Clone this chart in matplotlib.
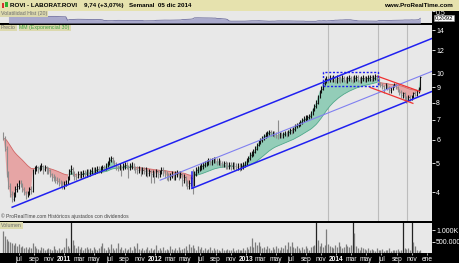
import numpy as np
import pandas as pd
import matplotlib
matplotlib.use('Agg')
import matplotlib.pyplot as plt
import matplotlib.dates as mdates
from matplotlib.patches import Rectangle
from matplotlib.ticker import NullLocator
from matplotlib.transforms import blended_transform_factory

# weekly data, ROVI, ending 05 dic 2014
closes = [
    6.1, 5.6, 4.6, 4.2, 3.95, 3.8, 3.9, 4.1, 4.2, 4.3,
    4.25, 4.1, 4.0, 3.9, 3.95, 4.1, 4.05, 4.7, 4.8, 4.85,
    4.8, 4.85, 4.9, 4.8, 4.85, 4.8, 4.75, 4.6, 4.5, 4.45,
    4.4, 4.35, 4.3, 4.25, 4.2, 4.25, 4.3, 4.45, 4.7, 4.8,
    4.65, 4.55, 4.5, 4.6, 4.55, 4.6, 4.65, 4.6, 4.7, 4.65,
    4.7, 4.75, 4.7, 4.75, 4.8, 4.75, 4.8, 4.85, 4.8, 4.9,
    5.0, 5.15, 5.2, 5.1, 5.0, 4.9, 4.85, 4.9, 4.85, 4.9,
    4.95, 4.9, 4.85, 4.9, 4.95, 4.85, 4.8, 4.75, 4.8, 4.7,
    4.75, 4.7, 4.75, 4.65, 4.7, 4.6, 4.65, 4.55, 4.7, 4.6,
    4.65, 4.75, 4.7, 4.6, 4.55, 4.5, 4.55, 4.6, 4.5, 4.6,
    4.65, 4.55, 4.6, 4.4, 4.5, 4.35, 4.2, 4.3, 4.45, 4.25,
    4.6, 4.75, 4.8, 4.85, 4.9, 4.95, 5.0, 5.05, 5.1, 5.05,
    5.1, 5.15, 5.1, 5.05, 5.1, 5.0, 4.95, 5.0, 4.95, 4.9,
    4.95, 4.9, 4.95, 4.9, 4.85, 4.9, 4.85, 4.9, 4.95, 5.0,
    5.1, 5.2, 5.35, 5.4, 5.45, 5.6, 5.75, 5.9, 6.0, 6.1,
    6.2, 6.25, 6.35, 6.4, 6.3, 6.35, 6.3, 6.25, 6.2, 6.3,
    6.25, 6.3, 6.35, 6.3, 6.4, 6.5, 6.45, 6.55, 6.7, 6.75,
    6.8, 6.9, 7.0, 7.05, 7.1, 7.15, 7.2, 7.4, 7.6, 7.8,
    8.0, 8.4, 8.7, 8.9, 9.3, 9.5, 9.6, 9.55, 9.7, 9.6,
    9.65, 9.5, 9.7, 9.6, 9.55, 9.7, 9.6, 9.5, 9.65, 9.7,
    9.6, 9.55, 9.7, 9.75, 9.6, 9.5, 9.65, 9.7, 9.6, 9.65,
    9.7, 9.75, 9.6, 9.7, 9.8, 9.7, 9.3, 9.2, 9.1, 9.0,
    9.15, 9.0, 8.8, 8.9, 9.1, 9.2, 9.0, 8.8, 8.7, 8.5,
    8.6, 8.3, 8.2, 8.35, 8.25, 8.4, 8.6, 8.5, 8.7, 8.9,
    9.74,
]
highs = [
    6.4, 6.2, 5.7, 4.7, 4.3, 4.05, 4.0, 4.2, 4.3, 4.4,
    4.4, 4.3, 4.15, 4.05, 4.05, 4.15, 4.2, 4.8, 4.9, 4.95,
    4.9, 4.95, 5.0, 4.95, 4.95, 4.9, 4.85, 4.8, 4.65, 4.6,
    4.55, 4.5, 4.45, 4.4, 4.35, 4.35, 4.4, 4.55, 4.8, 4.95,
    4.85, 4.7, 4.65, 4.7, 4.7, 4.7, 4.75, 4.75, 4.8, 4.8,
    4.8, 4.85, 4.85, 4.85, 4.9, 4.9, 4.9, 4.95, 4.95, 5.0,
    5.1, 5.25, 5.3, 5.25, 5.15, 5.05, 4.95, 5.0, 4.95, 5.0,
    5.05, 5.05, 4.95, 5.0, 5.05, 5.0, 4.9, 4.9, 4.9, 4.85,
    4.85, 4.85, 4.85, 4.8, 4.8, 4.75, 4.75, 4.7, 4.8, 4.75,
    4.75, 4.85, 4.85, 4.75, 4.7, 4.65, 4.65, 4.7, 4.65, 4.7,
    4.75, 4.7, 4.7, 4.65, 4.6, 4.55, 4.4, 4.4, 4.55, 4.8,
    4.7, 4.85, 4.9, 4.95, 5.0, 5.05, 5.1, 5.15, 5.2, 5.2,
    5.2, 5.25, 5.25, 5.2, 5.2, 5.15, 5.1, 5.1, 5.1, 5.05,
    5.05, 5.05, 5.05, 5.05, 5.0, 5.0, 5.0, 5.0, 5.05, 5.1,
    5.2, 5.3, 5.45, 5.5, 5.6, 5.7, 5.85, 6.0, 6.1, 6.2,
    6.3, 6.4, 6.45, 6.5, 6.5, 6.45, 6.45, 6.4, 7.0, 6.4,
    6.4, 6.4, 6.45, 6.45, 6.5, 6.6, 6.6, 6.65, 6.8, 6.85,
    6.9, 7.0, 7.1, 7.2, 7.25, 7.3, 7.35, 7.5, 7.7, 7.9,
    8.15, 8.5, 8.8, 9.1, 9.4, 9.7, 9.8, 9.8, 9.9, 9.85,
    9.9, 9.8, 9.9, 9.85, 9.8, 9.9, 9.85, 9.75, 9.85, 9.9,
    9.85, 9.8, 9.9, 9.95, 9.9, 9.75, 9.85, 9.9, 9.85, 9.85,
    9.9, 9.95, 9.9, 9.9, 10.0, 9.95, 9.75, 9.4, 9.3, 9.2,
    9.3, 9.25, 9.1, 9.0, 9.2, 9.3, 9.3, 9.1, 8.9, 8.8,
    8.7, 8.7, 8.4, 8.5, 8.5, 8.5, 8.7, 8.75, 8.8, 9.0,
    9.85,
]
lows = [
    6.0, 5.5, 4.5, 4.1, 3.85, 3.7, 3.75, 3.85, 4.0, 4.1,
    4.15, 4.0, 3.9, 3.8, 3.85, 3.9, 3.95, 4.0, 4.6, 4.7,
    4.65, 4.7, 4.75, 4.6, 4.7, 4.6, 4.6, 4.5, 4.35, 4.35,
    4.3, 4.25, 4.2, 4.15, 4.1, 4.1, 4.2, 4.25, 4.4, 4.6,
    4.55, 4.4, 4.4, 4.45, 4.45, 4.45, 4.5, 4.5, 4.5, 4.55,
    4.55, 4.6, 4.6, 4.6, 4.65, 4.65, 4.65, 4.7, 4.7, 4.75,
    4.85, 4.95, 5.05, 5.0, 4.9, 4.75, 4.7, 4.75, 4.55, 4.75,
    4.8, 4.8, 4.45, 4.75, 4.8, 4.75, 4.65, 4.6, 4.65, 4.55,
    4.6, 4.6, 4.55, 4.5, 4.55, 4.3, 4.5, 4.3, 4.5, 4.45,
    4.5, 4.6, 4.55, 4.45, 4.4, 4.35, 4.4, 4.45, 4.4, 4.4,
    4.5, 4.4, 4.45, 4.2, 4.3, 4.2, 4.1, 4.1, 4.2, 3.95,
    4.2, 4.55, 4.65, 4.7, 4.75, 4.8, 4.85, 4.9, 4.95, 4.95,
    4.95, 5.0, 5.0, 4.95, 4.95, 4.9, 4.85, 4.85, 4.8, 4.8,
    4.8, 4.75, 4.8, 4.75, 4.75, 4.75, 4.7, 4.75, 4.8, 4.85,
    4.95, 5.05, 5.15, 5.25, 5.3, 5.4, 5.55, 5.7, 5.8, 5.9,
    6.0, 6.1, 6.15, 6.25, 6.2, 6.2, 6.15, 6.1, 6.05, 6.1,
    6.1, 6.1, 6.2, 6.15, 6.2, 6.3, 6.3, 6.35, 6.45, 6.6,
    6.65, 6.7, 6.8, 6.9, 6.95, 7.0, 7.05, 7.1, 7.3, 7.5,
    7.7, 7.9, 8.3, 8.6, 8.8, 9.2, 9.3, 9.35, 9.4, 9.4,
    9.4, 9.3, 9.35, 9.4, 9.3, 9.4, 9.4, 9.3, 9.35, 9.45,
    9.4, 9.3, 9.4, 9.5, 9.4, 9.3, 9.35, 9.45, 9.4, 9.4,
    9.45, 9.5, 9.4, 9.45, 9.55, 9.5, 9.2, 9.0, 8.9, 8.6,
    8.9, 8.8, 8.6, 8.6, 8.8, 9.0, 8.9, 8.7, 8.5, 8.3,
    8.3, 8.1, 8.0, 8.1, 8.1, 8.15, 8.3, 8.4, 8.4, 8.6,
    8.85,
]
volumes_k = [
    950, 750, 600, 540, 500, 420, 350, 450, 300, 380,
    260, 300, 220, 250, 180, 280, 200, 450, 300, 220,
    180, 150, 250, 200, 130, 160, 220, 180, 150, 300,
    170, 140, 200, 120, 180, 250, 670, 300, 200, 1800,
    580, 350, 220, 300, 180, 250, 150, 200, 280, 160,
    200, 150, 250, 180, 120, 220, 300, 450, 200, 150,
    250, 180, 400, 220, 150, 200, 450, 180, 250, 150,
    200, 120, 180, 250, 150, 300, 200, 450, 180, 150,
    220, 130, 180, 250, 150, 200, 120, 180, 350, 150,
    200, 130, 250, 150, 180, 120, 300, 180, 150, 200,
    130, 250, 150, 180, 200, 300, 150, 400, 250, 350,
    200, 150, 300, 180, 250, 150, 200, 130, 180, 250,
    150, 200, 120, 180, 150, 100, 200, 130, 150, 180,
    120, 150, 200, 100, 130, 180, 150, 120, 200, 150,
    250, 180, 300, 670, 250, 460, 350, 460, 300, 200,
    250, 180, 300, 200, 150, 250, 180, 300, 200, 150,
    250, 200, 350, 180, 500, 300, 460, 250, 200, 300,
    200, 150, 250, 180, 300, 200, 150, 250, 300, 350,
    1800, 580, 300, 420, 250, 350, 1040, 400, 300, 250,
    200, 350, 250, 460, 300, 200, 250, 400, 300, 250,
    350, 1800, 870, 300, 200, 150, 250, 200, 180, 150,
    200, 120, 180, 150, 100, 200, 150, 120, 180, 100,
    150, 120, 200, 100, 130, 150, 120, 180, 100, 150,
    1800, 200, 180, 200, 150, 1800, 460, 300, 150, 100,
    120,
]
last_date = '2014-12-05'
first_open = 6.3

# drawing tools: (date, price) pairs
blue_lines = [
    [('2010-06-05', 3.56), ('2015-01-21', 13.16)],
    [('2012-05-29', 4.12), ('2015-01-21', 8.73)],
    [('2012-05-29', 4.12), ('2012-05-29', 4.67)],
]
thin_line = [('2012-01-22', 4.39), ('2015-01-21', 10.2)]
red_lines = [
    [('2014-06-17', 9.81), ('2014-12-03', 8.73)],
    [('2014-05-16', 9.01), ('2014-11-05', 7.96)],
]
box_dates = ['2013-11-07', '2014-06-17']
box_prices = [9.08, 10.12]
vline_dates = ['2013-11-28', '2014-06-17', '2014-10-12']
vol_last = 0.2092

price_ticks = [4, 5, 6, 7, 8, 9, 10, 12, 14]
month_names = ['ene', 'feb', 'mar', 'abr', 'may', 'jun', 'jul', 'ago', 'sep', 'oct', 'nov', 'dic']

plt.rcParams['font.family'] = ['Liberation Sans', 'DejaVu Sans']

W, H = 460, 263
BG = '#e8e8e8'
BEIGE = '#e6e2ae'

dates = pd.date_range(end=last_date, periods=len(closes), freq='W-FRI')
x = mdates.date2num(dates)
c = np.array(closes)
o = np.concatenate([[first_open], c[:-1]])
ema = pd.Series(c).ewm(span=30, adjust=False).mean().values
logret = np.diff(np.log(c))
hv = pd.Series(logret).rolling(20, min_periods=3).std().values * np.sqrt(52)

fig = plt.figure(figsize=(4.6, 2.63), dpi=100, facecolor='black')
fig.patches.append(Rectangle((0, 1 - 10.5 / H), 1, 10.5 / H, transform=fig.transFigure,
                             facecolor=BEIGE, edgecolor='none', zorder=0))
# little icon
fig.patches.append(Rectangle((2 / W, 1 - 8 / H), 2.5 / W, 5 / H, transform=fig.transFigure,
                             facecolor='#d83030', edgecolor='none'))
fig.patches.append(Rectangle((5.5 / W, 1 - 7 / H), 2.5 / W, 5 / H, transform=fig.transFigure,
                             facecolor='#30b030', edgecolor='none'))
hdr_y = 1 - 5.5 / H
hdr_fs = 4.5
fig.text(10 / W, hdr_y, 'ROVI - LABORAT.ROVI', fontsize=hdr_fs, fontweight='bold', va='center')
fig.text(84 / W, hdr_y, '9,74 (+3,07%)', fontsize=hdr_fs, fontweight='bold', va='center')
fig.text(129 / W, hdr_y, 'Semanal  05 dic 2014', fontsize=hdr_fs, fontweight='bold', va='center')
fig.text(453 / W, hdr_y, 'www.ProRealTime.com', fontsize=hdr_fs, fontweight='bold', va='center', ha='right')

xmin = mdates.date2num(pd.Timestamp('2010-04-17'))
xmax = mdates.date2num(pd.Timestamp('2015-01-21'))

ax_h = fig.add_axes([0, 1 - 23 / H, 432 / W, 12.5 / H])
ax_p = fig.add_axes([0, 1 - 221 / H, 432 / W, 196.5 / H], sharex=ax_h)
ax_v = fig.add_axes([0, 1 - 253 / H, 432 / W, 30.5 / H], sharex=ax_h)

for ax in (ax_h, ax_p, ax_v):
    ax.set_facecolor(BG)
    for s in ax.spines.values():
        s.set_visible(False)
    ax.yaxis.tick_right()
    ax.tick_params(axis='y', colors='white', labelsize=5, length=2, pad=1, width=0.6)
    ax.tick_params(axis='x', bottom=False, labelbottom=False)
ax_h.set_xlim(xmin, xmax)

# volatility panel
ax_h.fill_between(x[1:], hv, 0, color='#a9a9cc', lw=0)
ax_h.plot(x[1:], hv, color='#7070a0', lw=0.6)
ax_h.set_ylim(0, 0.54)
ax_h.set_yticks([0.5])
ax_h.set_yticklabels(['0,5'])
ax_h.text(0.002, 0.97, 'Volatilidad Hist (20)', transform=ax_h.transAxes, fontsize=3.8,
          color='#707070', va='top', bbox=dict(facecolor='#dcd9ae', edgecolor='none', pad=0.6))
tr = blended_transform_factory(ax_h.transAxes, ax_h.transData)
ax_h.text(1.006, vol_last, f'{vol_last:.4f}'.replace('.', ','), transform=tr, fontsize=4.3,
          va='center', ha='left', color='black', clip_on=False,
          bbox=dict(facecolor='white', edgecolor='#999999', pad=0.5, lw=0.4))

# price panel
ax_p.set_yscale('log')
ax_p.set_ylim(3.2, 14.66)
ax_p.yaxis.set_minor_locator(NullLocator())
ax_p.set_yticks(price_ticks)
ax_p.set_yticklabels([str(t) for t in price_ticks])

for d in vline_dates:
    ax_p.axvline(mdates.date2num(pd.Timestamp(d)), color='#bcbcbc', lw=0.8, zorder=1)

up = c >= ema
ax_p.fill_between(x, c, ema, where=up, interpolate=True, color='#93cdb8', lw=0, zorder=2)
ax_p.fill_between(x, c, ema, where=~up, interpolate=True, color='#e6a5a5', lw=0, zorder=2)
ax_p.plot(x, np.where(up, ema, np.nan), color='#4fa88a', lw=0.6, zorder=3)
ax_p.plot(x, np.where(~up, ema, np.nan), color='#d26464', lw=0.6, zorder=3)

bar_col = np.where(c >= o, '#111111', '#8c8c8c')
ax_p.vlines(x, lows, highs, colors=bar_col, lw=0.8, zorder=4)
ax_p.hlines(c, x, x + 2.5, colors=bar_col, lw=0.6, zorder=4)

def seg(pts):
    return [mdates.date2num(pd.Timestamp(p[0])) for p in pts], [p[1] for p in pts]

for ln in blue_lines:
    xs, ys = seg(ln)
    ax_p.plot(xs, ys, color='#2020f0', lw=1.1, zorder=5)
xs, ys = seg(thin_line)
ax_p.plot(xs, ys, color='#8080f0', lw=0.8, zorder=5)
for ln in red_lines:
    xs, ys = seg(ln)
    ax_p.plot(xs, ys, color='#f03030', lw=0.9, zorder=5)
bx = [mdates.date2num(pd.Timestamp(d)) for d in box_dates]
ax_p.plot([bx[0], bx[1], bx[1], bx[0], bx[0]],
          [box_prices[0], box_prices[0], box_prices[1], box_prices[1], box_prices[0]],
          color='#2020f0', lw=1.0, ls=(0, (1.5, 1.2)), zorder=5)

ax_p.text(0.002, 0.995, 'Precio', transform=ax_p.transAxes, fontsize=3.8, color='#707070',
          va='top', bbox=dict(facecolor='#dcd9ae', edgecolor='none', pad=0.6))
ax_p.text(0.045, 0.995, 'MM (Exponencial 30)', transform=ax_p.transAxes, fontsize=3.8,
          color='#3aa040', va='top', bbox=dict(facecolor='#dcd9ae', edgecolor='none', pad=0.6))
ax_p.text(0.003, 0.012, '\u00a9 ProRealTime.com Históricos ajustados con dividendos',
          transform=ax_p.transAxes, fontsize=3.6, color='#444444', va='bottom')

# volume panel
v = np.array(volumes_k)
vol_col = np.where(v > 1333, '#222222', '#7c7c7c')
ax_v.vlines(x, 0, v, colors=vol_col, lw=0.9)
ax_v.set_ylim(0, 1333)
ax_v.set_yticks([500, 1000])
ax_v.set_yticklabels(['500.000', '1.000K'])
ax_v.text(0.002, 0.985, 'Volumen', transform=ax_v.transAxes, fontsize=3.8, color='#707070',
          va='top', bbox=dict(facecolor='#dcd9ae', edgecolor='none', pad=0.6))

tick_dates = pd.date_range('2010-07-01', '2015-01-01', freq='2MS')
tick_labels = []
for d in tick_dates:
    if d.month == 1 and d.year < 2015:
        tick_labels.append(str(d.year))
    else:
        tick_labels.append(month_names[d.month - 1])
ax_v.set_xticks(mdates.date2num(tick_dates))
ax_v.set_xticklabels(tick_labels)
ax_v.tick_params(axis='x', bottom=True, labelbottom=True, colors='white', labelsize=4.8,
                 length=1.5, pad=1, width=0.5)
for lab in ax_v.get_xticklabels():
    if lab.get_text().isdigit():
        lab.set_fontweight('bold')

fig.savefig('out.png', dpi=100, facecolor=fig.get_facecolor())
